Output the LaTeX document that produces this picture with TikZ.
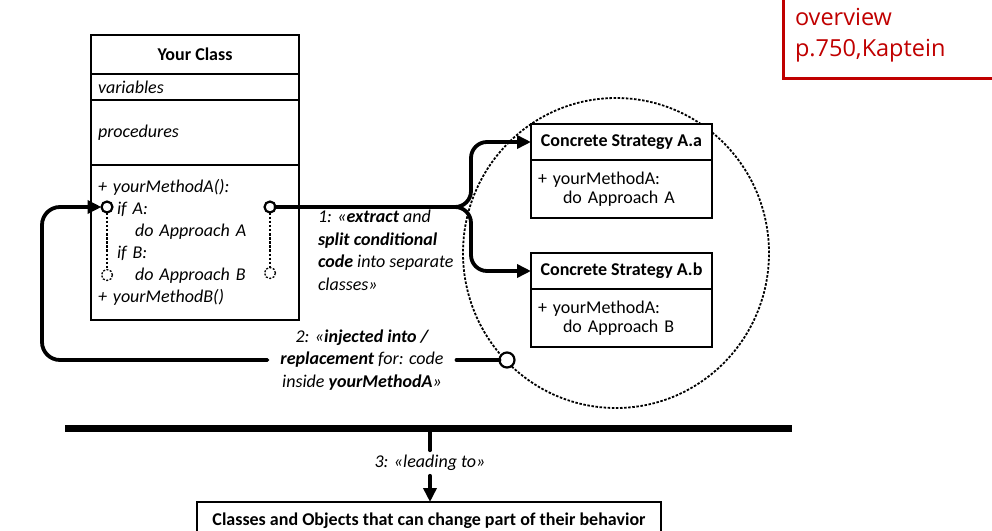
\documentclass[tikz,border=0pt]{standalone}
\usepackage{fontspec}
\setmainfont{Carlito}
\newfontfamily\notefont{Open Sans}
\usepackage{xcolor}
\usepackage{tikz}
\usetikzlibrary{shapes,shapes.geometric}
\usetikzlibrary{calc,arrows.meta,positioning}
\definecolor{notered}{RGB}{192,0,0}
\tikzset{
  box/.style={draw, line width=2.6pt, fill=white, inner sep=0pt, text centered,
  font=\fontsize{18}{22}\selectfont},
  head/.style={box, font=\fontsize{18}{22}\selectfont\bfseries},
  body/.style={box, align=left, inner xsep=7pt},
port/.style = {circle, draw, line width=2.2pt, fill=white, minimum size=11pt,
inner sep=0pt},
ghost/.style = {circle, draw, line width=1.3pt, dash pattern=on 2pt off 1.5pt,
minimum size=11pt, inner sep=0pt},
conn/.style = {line width=3.8pt, line cap=round},
tip/.style = {-{Triangle[length=14pt,width=13pt]}},
note/.style={font=\fontsize{18}{22.7}\selectfont\itshape, inner sep=0pt},
dots/.style={line width=1.8pt, dash pattern=on 2.5pt off 1.6pt}
}
\begin{document}
\begin{tikzpicture}[x=1pt,y=-1pt,outer sep=0pt]
			\useasboundingbox (0,0) rectangle (992,530);
			\node (E) [draw, ellipse, dots, minimum width=306pt,
			minimum height=310pt] at (616,253) {};
			\node (A) [head,minimum width=208pt,minimum height=39pt] 
			at (195,54.5) {Your Class};
			\node (B) [body,anchor=north,text width=194pt,minimum height=26pt,
			font=\fontsize{18}{22}\selectfont\itshape] at (A.south) {variables};
			\node (D) [body,anchor=north,text width=194pt,minimum height=65pt,
			font=\fontsize{18}{22}\selectfont\itshape] at (B.south) {procedures};
			\node (F) [body,anchor=north,text width=194pt,minimum height=155pt,
			font=\fontsize{18}{22}\selectfont\itshape] at (D.south) 
			{+ yourMethodA():\\ \hspace*{19pt}if A:\\ \hspace*{37pt}do Approach A\\
			\hspace*{19pt}if B:\\ \hspace*{37pt}do Approach B\\ + yourMethodB()};
			\node (C) [head,minimum width=181pt,minimum height=36pt] 
			at (621.5,142) {Concrete Strategy A.a};
			\node (G) [body,anchor=north,text width=167pt,minimum height=58pt,
			font=\fontsize{18}{19.5}\selectfont] at (C.south) 
			{+ yourMethodA:\\ \hspace*{25pt}do Approach A};
			\node (I) [head,minimum width=181pt,minimum height=36pt] 
			at (621.5,271) {Concrete Strategy A.b};
			\node (J) [body,anchor=north,text width=167pt,minimum height=58pt,
			font=\fontsize{18}{19.5}\selectfont] at (I.south) 
			{+ yourMethodA:\\ \hspace*{25pt}do Approach B};
			\node (H) [head,minimum width=464pt,minimum height=38pt,anchor=north] 
			at (429,502) {Classes and Objects that can change part of their behavior};
			\node (P) [port] at (107,207) {};
			\node (P2) [ghost] at (107,275) {};
			\node (R) [port] at (270,207) {};
			\node (R2) [ghost] at (270,273) {};
			\node (S) [port,minimum size=15pt] at (507,360) {};
			\node (L1) [note,anchor=north west,align=left] at (318,210)
			{1: «\textbf{extract} and\\ \textbf{split conditional}\\
			\textbf{code} into separate\\ classes»};
			\node (L2) [note,align=center,inner xsep=13pt] at (362,360)
			{2: «\textbf{injected into /}\\ \textbf{replacement} for: code\\
			inside \textbf{yourMethodA}»};
			\node (L3) [note,inner ysep=5pt] at (430,463) {3: «leading to»};
			\node (N) [anchor=north west,align=left,text=notered,inner sep=0pt,
			font=\notefont\fontsize{23.5}{31}\selectfont] at (795,8) 
			{overview\\ p.750,Kaptein};
			\coordinate (Q) at (455,207);
			\coordinate (K) at (42,300);
			\coordinate (M) at (430,428);
			\draw[dots] (P) -- (P2);
			\draw[dots] (R) -- (R2);
			\draw[conn] (R) -- (Q);
			\draw[conn,tip,rounded corners=16pt] (Q) -- ++(16,0) |- (C.west);
			\draw[conn,tip,rounded corners=16pt] (Q) -- ++(16,0) |- (I.west);
			\draw[conn] (S) -- (L2.east);
			\draw[conn,tip,rounded corners=18pt] (L2.west) -| (K) |- (P);
			\draw[line width=7pt] (65,428) -- (792,428);
			\draw[conn] (M) -- (L3.north);
			\draw[conn,tip] (L3.south) -- (L3.south |- H.north);
			\draw[notered,line width=3pt] (783,-3) |- (995,78);
			\end{tikzpicture}
\end{document}
